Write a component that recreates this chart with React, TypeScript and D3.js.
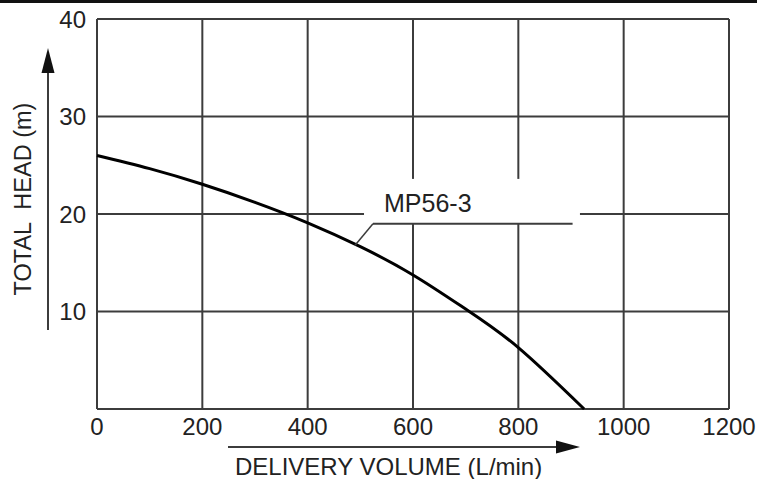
import React from "react";
import * as d3 from "d3";

// pump curve MP56-3
const flow = [0, 100, 200, 300, 400, 500, 600, 700, 800, 925];
const head = [26, 24.65, 23.05, 21.2, 19.1, 16.65, 13.75, 10.25, 6.3, 0];
const xTicks = [0, 200, 400, 600, 800, 1000, 1200];
const yTicks = [10, 20, 30, 40];
const yGrid = [0, 10, 20, 30, 40];
const seriesName = "MP56-3";

const W = 757;
const H = 479;
const FONT = "'Liberation Sans', Arial, Helvetica, sans-serif";
const GRID = "#3c3c3c";

export default function App() {
  const x = d3.scaleLinear().domain([0, 1200]).range([97, 729]);
  const y = d3.scaleLinear().domain([0, 40]).range([409, 19]);

  const pts: [number, number][] = flow.map((f, i) => [f, head[i]]);
  const line = d3
    .line<[number, number]>()
    .x((d) => x(d[0]))
    .y((d) => y(d[1]))
    .curve(d3.curveNatural);

  // label box that breaks the grid
  const bx0 = x(507);
  const bx1 = x(917);
  const by0 = y(23.6);
  const by1 = y(19.0);
  const leadY = by1;
  const leadX0 = x(524);
  const leadX1 = x(903);
  const footX = x(490);
  const footY = y(16.8);

  return (
    <svg
      width={W}
      height={H}
      style={{ position: "absolute", left: 0, top: 0, background: "#fff" }}
    >
      <rect x={0} y={0} width={W} height={3} fill="#111" />

      {/* grid */}
      {xTicks.map((t) => (
        <line key={"vx" + t} x1={x(t)} x2={x(t)} y1={y(40)} y2={y(0)} stroke={GRID} strokeWidth={2} />
      ))}
      {yGrid.map((t) => (
        <line key={"hy" + t} x1={x(0)} x2={x(1200)} y1={y(t)} y2={y(t)} stroke={GRID} strokeWidth={2} />
      ))}

      <rect x={bx0} y={by0} width={bx1 - bx0} height={by1 - by0} fill="#fff" />

      <path d={line(pts) || ""} fill="none" stroke="#000" strokeWidth={3} />

      {/* annotation */}
      <line x1={leadX0} x2={leadX1} y1={leadY} y2={leadY} stroke={GRID} strokeWidth={2} />
      <line x1={leadX0} x2={footX} y1={leadY} y2={footY} stroke={GRID} strokeWidth={1.5} />
      <text x={x(545)} y={y(20.2)} fontFamily={FONT} fontSize={25} fill="#222">
        {seriesName}
      </text>

      {/* tick labels */}
      {xTicks.map((t) => (
        <text key={"xt" + t} x={x(t)} y={435} textAnchor="middle" fontFamily={FONT} fontSize={24} fill="#222">
          {t}
        </text>
      ))}
      {yTicks.map((t) => (
        <text key={"yt" + t} x={86} y={y(t)} dy="0.36em" textAnchor="end" fontFamily={FONT} fontSize={24} fill="#222">
          {t}
        </text>
      ))}

      {/* y axis title with arrow */}
      <line x1={48} x2={48} y1={70} y2={330} stroke={GRID} strokeWidth={2} />
      <path d="M48,48 L41.5,73 L54.5,73 Z" fill="#111" />
      <text
        transform="translate(31,199) rotate(-90)"
        textAnchor="middle"
        fontFamily={FONT}
        fontSize={23.5}
        fill="#222"
        style={{ whiteSpace: "pre" }}
      >
        {"TOTAL  HEAD (m)"}
      </text>

      {/* x axis title with arrow */}
      <line x1={228} x2={560} y1={447} y2={447} stroke={GRID} strokeWidth={2} />
      <path d="M580,447 L556,440.5 L556,453.5 Z" fill="#111" />
      <text x={235} y={475} fontFamily={FONT} fontSize={24} fill="#222">
        DELIVERY VOLUME (L/min)
      </text>
    </svg>
  );
}
